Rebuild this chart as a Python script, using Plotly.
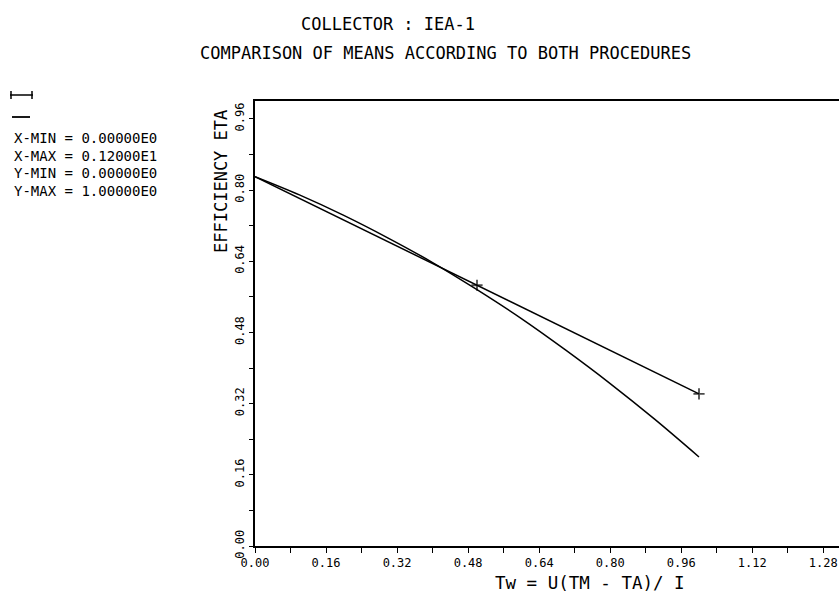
import plotly.graph_objects as go

# ---- data ----
proc_a_x = [0.0, 0.5, 1.0]
proc_a_y = [0.830, 0.586, 0.342]

proc_b_x = [0.0, 0.1, 0.2, 0.3, 0.4, 0.5, 0.6, 0.7, 0.8, 0.9, 1.0]
proc_b_y = [0.830, 0.789, 0.743, 0.692, 0.637, 0.576, 0.511, 0.440, 0.365, 0.285, 0.200]

x_tick_labels = ["0.00", "0.16", "0.32", "0.48", "0.64", "0.80", "0.96", "1.12", "1.28"]
y_tick_labels = ["0.00", "0.16", "0.32", "0.48", "0.64", "0.80", "0.96"]

info_lines = ["X-MIN = 0.00000E0", "X-MAX = 0.12000E1", "Y-MIN = 0.00000E0", "Y-MAX = 1.00000E0"]

title_1 = "COLLECTOR : IEA-1"
title_2 = "COMPARISON OF MEANS ACCORDING TO BOTH PROCEDURES"
x_title = "Tw = U(TM - TA)/ I"
y_title = "EFFICIENCY ETA"

# ---- layout geometry ----
W, H = 839, 603
L, R, T, B = 255, 0, 101, 57
PW, PH = W - L - R, H - T - B
FONT = "DejaVu Sans Mono"


def px(x):
    return (x - L) / PW


def py(y):
    return (H - B - y) / PH


def label(text, x, y, size, xanchor="center", angle=0):
    return dict(text=text, x=px(x), y=py(y), xref="paper", yref="paper",
                xanchor=xanchor, yanchor="middle", textangle=angle, showarrow=False,
                font=dict(family=FONT, size=size, color="black"))


fig = go.Figure()

fig.add_trace(go.Scatter(
    x=proc_b_x, y=proc_b_y, mode="lines", line=dict(color="black", width=1.5, shape="spline"),
    showlegend=False, hoverinfo="skip"))

fig.add_trace(go.Scatter(
    x=proc_a_x, y=proc_a_y, mode="lines+markers",
    line=dict(color="black", width=1.5),
    marker=dict(symbol="cross-thin", size=[0, 8, 8], color="black", line=dict(color="black", width=1.8)),
    showlegend=False, hoverinfo="skip"))

annotations = [
    label(title_1, 388, 24, 17),
    label(title_2, 445, 53, 17),
    label(y_title, 221, 182, 17, angle=-90),
    label(x_title, 590, 583, 17.5),
]
for i, t in enumerate(info_lines):
    annotations.append(label(t, 12, 138 + i * 17.7, 14, xanchor="left"))

shapes = []
# legend glyphs
shapes.append(dict(type="line", xref="paper", yref="paper", x0=px(10), x1=px(33), y0=py(95), y1=py(95),
                   line=dict(color="black", width=1.5)))
for cx in (11, 32):
    shapes.append(dict(type="line", xref="paper", yref="paper", x0=px(cx), x1=px(cx), y0=py(91), y1=py(99),
                       line=dict(color="black", width=1.5)))
shapes.append(dict(type="line", xref="paper", yref="paper", x0=px(12), x1=px(30), y0=py(117), y1=py(117),
                   line=dict(color="black", width=1.8)))

x_tick_vals = [float(t) for t in x_tick_labels]
y_tick_vals = [float(t) for t in y_tick_labels]

fig.update_layout(
    width=W, height=H,
    margin=dict(l=L, r=R, t=T, b=B, pad=0),
    paper_bgcolor="white", plot_bgcolor="white",
    annotations=annotations, shapes=shapes,
    font=dict(family=FONT, color="black"),
    xaxis=dict(range=[0, PW / 444.0], tickvals=x_tick_vals, ticktext=x_tick_labels,
               showgrid=False, zeroline=False, showline=True, linecolor="black", linewidth=1.5,
               mirror=True, ticks="outside", ticklen=5, tickwidth=1.2, tickcolor="black",
               tickfont=dict(family=FONT, size=12, color="black"),
               minor=dict(tickvals=[v + 0.08 for v in x_tick_vals], ticks="outside", ticklen=5,
                          tickwidth=1.2, tickcolor="black")),
    yaxis=dict(range=[0, 1.0], tickvals=y_tick_vals, ticktext=y_tick_labels, tickangle=-90,
               showgrid=False, zeroline=False, showline=True, linecolor="black", linewidth=1.5,
               mirror=False, ticks="outside", ticklen=4, tickwidth=1.2, tickcolor="black",
               tickfont=dict(family=FONT, size=12, color="black"),
               minor=dict(tickvals=[v + 0.08 for v in y_tick_vals], ticks="outside", ticklen=4,
                          tickwidth=1.2, tickcolor="black")),
)

fig.write_html("out.html")
